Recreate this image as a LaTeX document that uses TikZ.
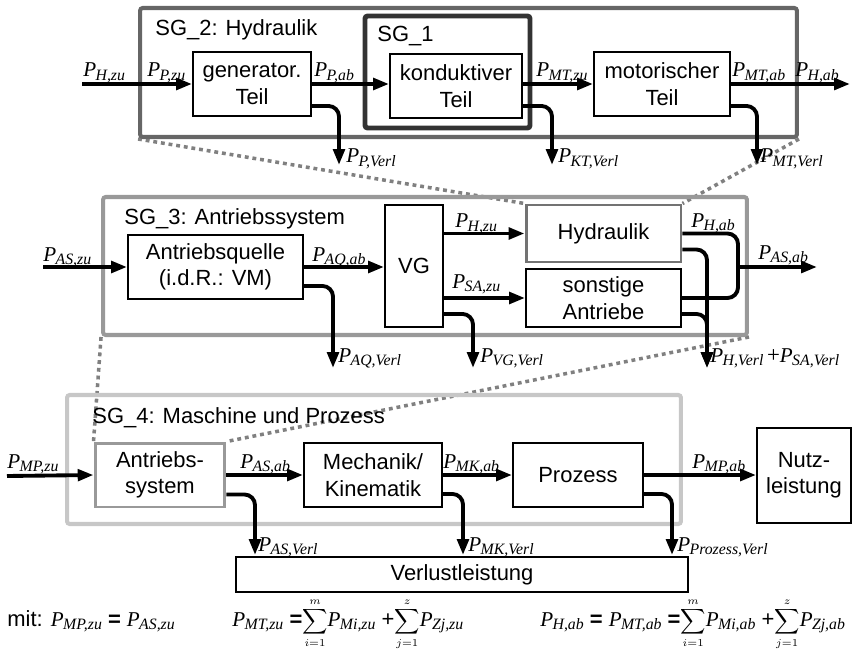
\documentclass[tikz,border=0pt]{standalone}
\usepackage{fontspec}
\setmainfont{Liberation Sans}
\newfontfamily\pfont{Liberation Serif}
\usetikzlibrary{arrows.meta,backgrounds}

\newcommand{\Pw}[2]{{\pfont\itshape\fontsize{12}{13}\selectfont P\kern-0.03em\raisebox{-0.4ex}{\fontsize{9}{9}\selectfont #1,#2}}}
\newcommand{\Sm}[2]{{\fontsize{9}{9}\selectfont$\displaystyle\sum_{#1=1}^{#2}$}}

\begin{document}
\begin{tikzpicture}[x=0.02cm, y=-0.02cm,
    font=\fontsize{12.5}{15}\selectfont,
    sgframe/.style={draw, line width=2.3pt, rounded corners=1.5pt, inner sep=0pt},
    blk/.style={draw, line width=1.1pt, fill=white, align=center, inner sep=1pt},
    plab/.style={anchor=base west, inner sep=0pt},
    flow/.style={line width=2.2pt, -{Triangle[length=9pt,width=6.5pt]}},
    flowline/.style={line width=2.2pt, rounded corners=6pt},
    loss/.style={flow, rounded corners=6pt},
    dots/.style={draw=black!50, line width=2pt, dash pattern=on 2.2pt off 2.2pt}]
    \useasboundingbox (0,0) rectangle (858,655);

    % Systemgrenzen
    \node[sgframe, draw=black!60, minimum width=13.14cm, minimum height=2.58cm] (sg2) at (468.5,72.5) {};
    \node[sgframe, draw=black!80, line width=2.8pt, minimum width=3.3cm, minimum height=2.24cm] (sg1) at (447.5,72) {};
    \node[sgframe, draw=black!40, minimum width=12.88cm, minimum height=2.76cm] (sg3) at (425,266) {};
    \node[sgframe, draw=black!22, minimum width=12.28cm, minimum height=2.58cm] (sg4) at (374,459.5) {};
    \node[anchor=base west, inner sep=0pt] (sg2t) at (155,36) {SG\_2: Hydraulik};
    \node[anchor=base west, inner sep=0pt] (sg1t) at (377,42) {SG\_1};
    \node[anchor=base west, inner sep=0pt] (sg3t) at (124,224) {SG\_3: Antriebssystem};
    \node[anchor=base west, inner sep=0pt] (sg4t) at (92,423) {SG\_4: Maschine und Prozess};

    % Hydraulik
    \node[blk, minimum width=2.36cm, minimum height=1.28cm] (gen) at (252,84) {generator.\\Teil};
    \node[blk, minimum width=2.64cm, minimum height=1.28cm] (kond) at (456,86) {konduktiver\\Teil};
    \node[blk, minimum width=2.72cm, minimum height=1.28cm] (mot) at (662,84) {motorischer\\Teil};

    % Antriebssystem
    \node[blk, minimum width=3.5cm, minimum height=1.28cm] (aq) at (215.5,267) {Antriebsquelle\\(i.d.R.: VM)};
    \node[blk, minimum width=1.16cm, minimum height=2.44cm] (vg) at (414,266) {VG};
    \node[blk, draw=black!55, line width=1.7pt, minimum width=3.1cm, minimum height=1.14cm] (hyd) at (603.5,233.5) {Hydraulik};
    \node[blk, minimum width=3.1cm, minimum height=1.16cm] (sa) at (603.5,298) {sonstige\\Antriebe};

    % Maschine und Prozess
    \node[blk, draw=black!40, line width=1.7pt, minimum width=2.6cm, minimum height=1.28cm] (as) at (160,475) {Antriebs-\\system};
    \node[blk, minimum width=2.76cm, minimum height=1.28cm] (mk) at (373,475) {Mechanik/\\Kinematik};
    \node[blk, minimum width=2.6cm, minimum height=1.28cm] (proz) at (578,475) {Prozess};
    \node[blk, minimum width=1.88cm, minimum height=1.9cm] (nutz) at (804,475.5) {Nutz-\\leistung};
    \node[blk, minimum width=9.04cm, minimum height=0.7cm] (verl) at (462,574.5) {Verlustleistung};

    \begin{scope}[on background layer]
        \draw[dots] (sg2.south west) -- (hyd.north west);
        \draw[dots] (sg2.south east) -- (hyd.north east);
        \draw[dots] (sg3.south west) -- (as.north west);
        \draw[dots] (sg3.south east) -- (as.north east);
    \end{scope}

    \coordinate (hzu) at (82,84);
    \coordinate (hab) at (850,84);
    \coordinate (pverl) at (339,165);
    \coordinate (ktverl) at (552,165);
    \coordinate (mtverl) at (757,165);
    \coordinate (aszu) at (43,267);
    \coordinate (junc) at (738,267);
    \coordinate (asab) at (817,267);
    \coordinate (aqverl) at (333,368);
    \coordinate (vgverl) at (473,368);
    \coordinate (hsaverl) at (707,368);
    \coordinate (mpzu) at (7,476);
    \coordinate (asverl) at (255,555);
    \coordinate (mkverl) at (463,555);
    \coordinate (prverl) at (672,555);

    % Leistungsfluss oben
    \draw[flow] (hzu) -- (gen.west);
    \draw[flow] (gen.east) -- (gen.east -| kond.west);
    \draw[flow] (kond.east |- mot.west) -- (mot.west);
    \draw[flow] (mot.east) -- (hab);
    \draw[loss] ([yshift=0.22cm]gen.south east) -| (pverl);
    \draw[loss] ([yshift=0.26cm]kond.south east) -| (ktverl);
    \draw[loss] ([yshift=0.22cm]mot.south east) -| (mtverl);
    \node[plab] (lhzu) at (83,77) {\Pw{H}{zu}};
    \node[plab] (lpzu) at (147,77) {\Pw{P}{zu}};
    \node[plab] (lpab) at (314,77) {\Pw{P}{ab}};
    \node[plab] (lmtzu) at (536,77) {\Pw{MT}{zu}};
    \node[plab] (lmtab) at (732,77) {\Pw{MT}{ab}};
    \node[plab] (lhab) at (795,77) {\Pw{H}{ab}};
    \node[plab] (lpverl) at (346,163) {\Pw{P}{Verl}};
    \node[plab] (lktverl) at (558,163) {\Pw{KT}{Verl}};
    \node[plab] (lmtverl) at (760,163) {\Pw{MT}{Verl}};

    % Leistungsfluss Mitte
    \draw[flow] (aszu) -- (aq.west);
    \draw[flow] (aq.east) -- (aq.east -| vg.west);
    \draw[flow] (hyd.west -| vg.east) -- (hyd.west);
    \draw[flow] (sa.west -| vg.east) -- (sa.west);
    \draw[flowline] (hyd.east) -| (junc);
    \draw[flowline] (sa.east) -| (junc);
    \draw[flow] (junc) -- (asab);
    \draw[loss] ([yshift=0.28cm]aq.south east) -| (aqverl);
    \draw[loss] ([yshift=0.28cm]vg.south east) -| (vgverl);
    \draw[loss] ([yshift=0.28cm]hyd.south east) -| (hsaverl);
    \draw[loss] ([yshift=0.28cm]sa.south east) -| (hsaverl);
    \node[plab] (laszu) at (43,261) {\Pw{AS}{zu}};
    \node[plab] (laqab) at (312,261) {\Pw{AQ}{ab}};
    \node[plab] (lhzu2) at (455,228) {\Pw{H}{zu}};
    \node[plab] (lsazu) at (452,288) {\Pw{SA}{zu}};
    \node[plab] (lhab2) at (691,227) {\Pw{H}{ab}};
    \node[plab] (lasab) at (758,259) {\Pw{AS}{ab}};
    \node[plab] (laqverl) at (338,362) {\Pw{AQ}{Verl}};
    \node[plab] (lvgverl) at (480,362) {\Pw{VG}{Verl}};
    \node[plab] (lhsaverl) at (710,362) {\Pw{H}{Verl}\,{\pfont\fontsize{13}{13}\selectfont+}\Pw{SA}{Verl}};

    % Leistungsfluss unten
    \draw[flow] (mpzu) -- (as.west);
    \draw[flow] (as.east) -- (as.east -| mk.west);
    \draw[flow] (mk.east) -- (mk.east -| proz.west);
    \draw[flow] (proz.east) -- (proz.east -| nutz.west);
    \draw[loss] ([yshift=0.28cm]as.south east) -| (asverl);
    \draw[loss] ([yshift=0.28cm]mk.south east) -| (mkverl);
    \draw[loss] ([yshift=0.28cm]proz.south east) -| (prverl);
    \node[plab] (lmpzu) at (7,468) {\Pw{MP}{zu}};
    \node[plab] (lasab2) at (240,468) {\Pw{AS}{ab}};
    \node[plab] (lmkab) at (443,468) {\Pw{MK}{ab}};
    \node[plab] (lmpab) at (692,468) {\Pw{MP}{ab}};
    \node[plab] (lasverl) at (258,551) {\Pw{AS}{Verl}};
    \node[plab] (lmkverl) at (468,551) {\Pw{MK}{Verl}};
    \node[plab] (lprverl) at (677,551) {\Pw{Prozess}{Verl}};

    % Bilanzen
    \node[plab] (eqa) at (7,626) {mit: \Pw{MP}{zu} \textbf{=} \Pw{AS}{zu}};
    \node[plab] (eqb) at (232,626) {\Pw{MT}{zu} \textbf{=}\Sm{i}{m}\Pw{Mi}{zu} +\Sm{j}{z}\Pw{Zj}{zu}};
    \node[plab] (eqc) at (540,626) {\Pw{H}{ab} \textbf{=} \Pw{MT}{ab} \textbf{=}\Sm{i}{m}\Pw{Mi}{ab} +\Sm{j}{z}\Pw{Zj}{ab}};
\end{tikzpicture}
\end{document}
